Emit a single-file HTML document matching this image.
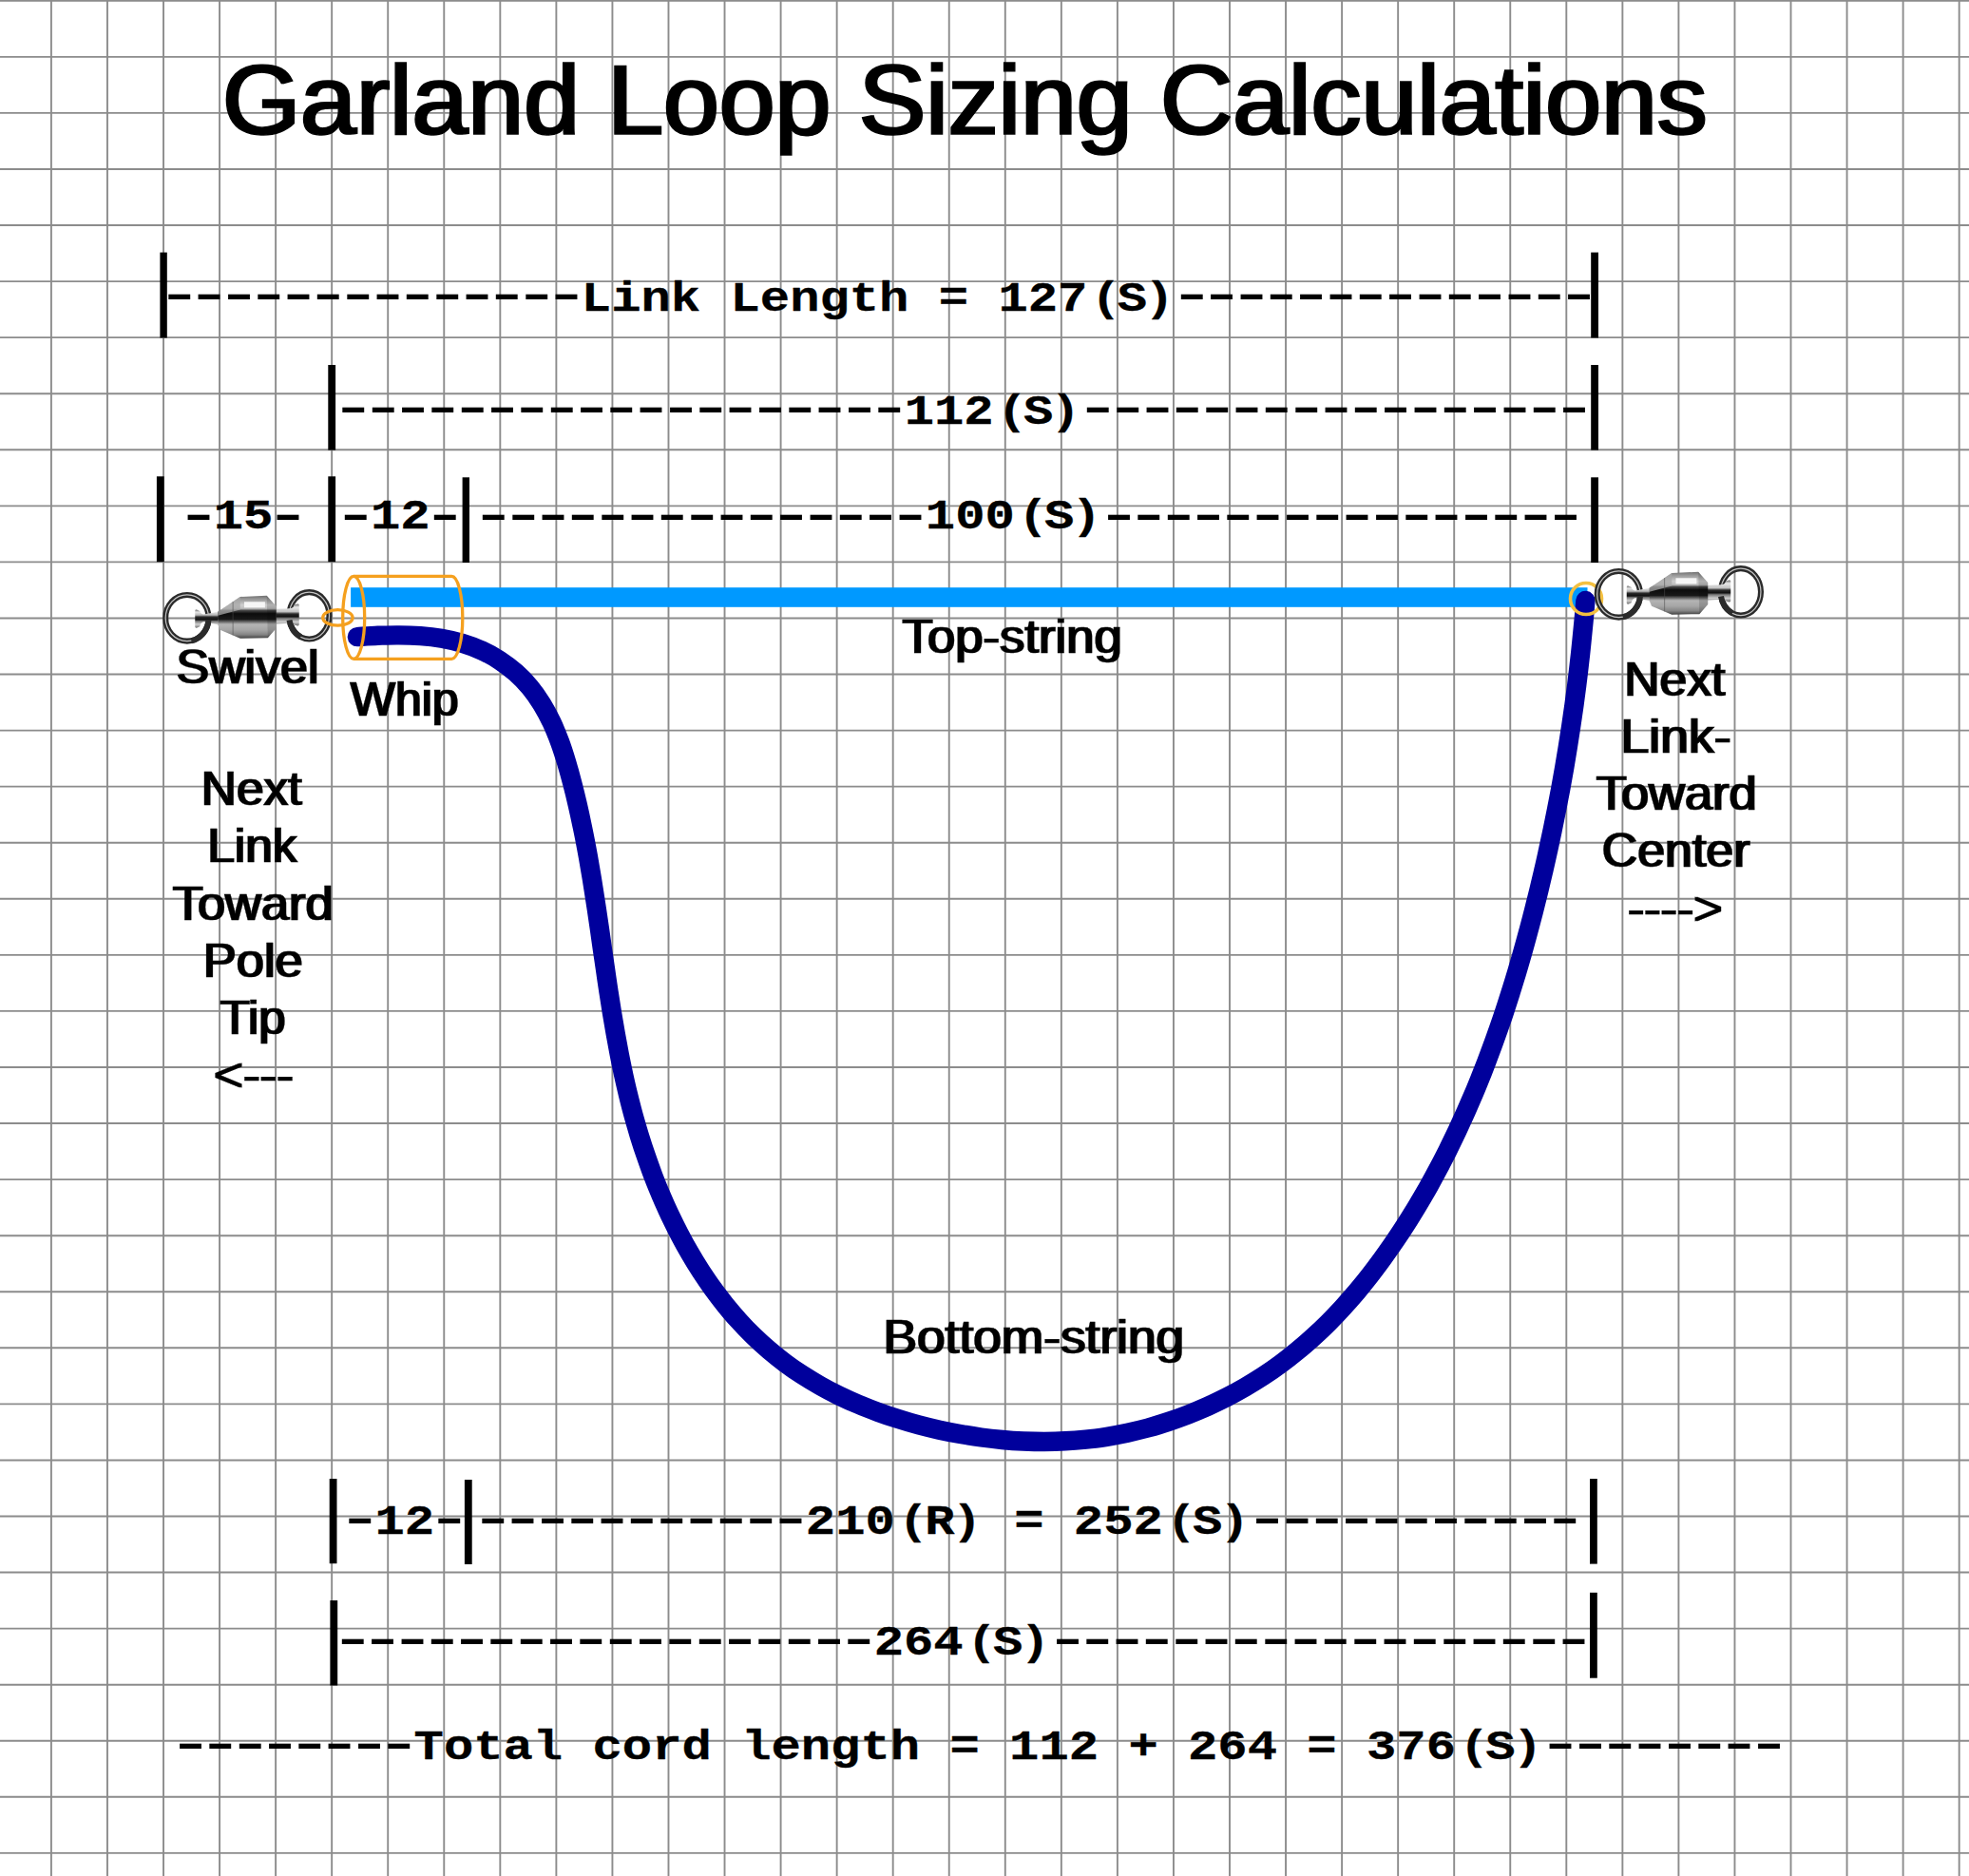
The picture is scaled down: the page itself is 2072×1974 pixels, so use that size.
<!DOCTYPE html>
<html><head><meta charset="utf-8"><title>Garland Loop Sizing Calculations</title>
<style>
html,body{margin:0;padding:0;background:#fff}
svg{display:block}
text{fill:#000;white-space:pre}
.m{font-family:"Liberation Mono",monospace;font-weight:bold;font-size:44.0px;stroke:#000;stroke-width:.3;stroke-linejoin:round}
.d{font-family:"Liberation Mono",monospace;font-weight:bold;font-size:44.0px;letter-spacing:-9.372px}
.s{font-family:"Liberation Sans",sans-serif;stroke:#000;stroke-linejoin:miter}
.l,.t{filter:url(#fh)}
</style></head><body>
<svg width="2072" height="1974" viewBox="0 0 2072 1974">
<defs>
<linearGradient id="gb" gradientUnits="userSpaceOnUse" x1="0" y1="240" x2="0" y2="642">
<stop offset="0" stop-color="#707070"/><stop offset=".07" stop-color="#939393"/><stop offset=".15" stop-color="#b4b4b4"/><stop offset=".22" stop-color="#cfcfcf"/><stop offset=".3" stop-color="#bdbdbd"/><stop offset=".35" stop-color="#444"/><stop offset=".42" stop-color="#0c0c0c"/><stop offset=".55" stop-color="#181818"/><stop offset=".61" stop-color="#666"/><stop offset=".67" stop-color="#b4b4b4"/><stop offset=".8" stop-color="#a6a6a6"/><stop offset=".91" stop-color="#858585"/><stop offset="1" stop-color="#404040"/>
</linearGradient>
<linearGradient id="gp" gradientUnits="userSpaceOnUse" x1="0" y1="370" x2="0" y2="545">
<stop offset="0" stop-color="#5e5e5e"/><stop offset=".14" stop-color="#e6e6e6"/><stop offset=".3" stop-color="#b5b5b5"/><stop offset=".4" stop-color="#2a2a2a"/><stop offset=".55" stop-color="#0e0e0e"/><stop offset=".63" stop-color="#777"/><stop offset=".8" stop-color="#d2d2d2"/><stop offset="1" stop-color="#6c6c6c"/>
</linearGradient>
<linearGradient id="gq" gradientUnits="userSpaceOnUse" x1="0" y1="315" x2="0" y2="525">
<stop offset="0" stop-color="#5e5e5e"/><stop offset=".16" stop-color="#e9e9e9"/><stop offset=".36" stop-color="#c2c2c2"/><stop offset=".46" stop-color="#2a2a2a"/><stop offset=".58" stop-color="#111"/><stop offset=".66" stop-color="#777"/><stop offset=".82" stop-color="#d0d0d0"/><stop offset="1" stop-color="#666"/>
</linearGradient>
<g id="swivel" transform="translate(160 600) scale(.111732)">
<g fill="none">
<ellipse cx="330" cy="450" rx="203" ry="218" stroke="#2b2b2b" stroke-width="54"/>
<ellipse cx="330" cy="450" rx="203" ry="218" stroke="#c4c4c4" stroke-width="11"/>
<ellipse cx="1480" cy="428" rx="189" ry="221" stroke="#2b2b2b" stroke-width="54"/>
<ellipse cx="1480" cy="428" rx="189" ry="221" stroke="#c4c4c4" stroke-width="11"/>
</g>
<path d="M405 382Q405 370 420 372L450 385Q455 410 485 416L622 392V512L485 486Q455 495 450 530L420 543Q405 545 405 533Z" fill="url(#gp)"/>
<path d="M1385 327Q1385 315 1370 317L1340 325Q1335 355 1300 360L1168 365V505L1300 498Q1335 500 1340 515L1370 523Q1385 525 1385 513Z" fill="url(#gq)"/>
<path d="M620 392L830 250L1080 240L1170 340V545L1090 637L830 642L640 562L620 512Z" fill="url(#gb)"/>
<path d="M620 392L830 250V372L620 428Z" fill="#a8a8a8" opacity=".75"/>
<path d="M1080 240L1170 340V545L1090 637Z" fill="#000" opacity=".14"/>
<rect x="868" y="298" width="196" height="54" fill="#f6f6f6"/>
<path d="M762 296V612" stroke="#4a4a4a" stroke-width="7" fill="none" opacity=".7"/>
<path d="M532 470A203 218 0 0 1 370 664" stroke="#2b2b2b" stroke-width="54" fill="none"/>
<path d="M1293 470A189 221 0 0 0 1400 629" stroke="#2b2b2b" stroke-width="54" fill="none"/>
</g>
</defs>

<defs><filter id="fh" x="-5%" y="-10%" width="110%" height="120%"><feMorphology operator="dilate" radius="1 0"/></filter></defs>
<rect width="2072" height="1974" fill="#fff"/>
<path d="M53.91 0V1974M112.96 0V1974M172.01 0V1974M231.07 0V1974M290.12 0V1974M349.17 0V1974M408.22 0V1974M467.27 0V1974M526.33 0V1974M585.38 0V1974M644.43 0V1974M703.48 0V1974M762.53 0V1974M821.59 0V1974M880.64 0V1974M939.69 0V1974M998.74 0V1974M1057.79 0V1974M1116.85 0V1974M1175.90 0V1974M1234.95 0V1974M1294.00 0V1974M1353.05 0V1974M1412.11 0V1974M1471.16 0V1974M1530.21 0V1974M1589.26 0V1974M1648.31 0V1974M1707.37 0V1974M1766.42 0V1974M1825.47 0V1974M1884.52 0V1974M1943.57 0V1974M2002.63 0V1974M2061.68 0V1974M0 0.77H2072M0 59.83H2072M0 118.90H2072M0 177.96H2072M0 237.03H2072M0 296.09H2072M0 355.15H2072M0 414.22H2072M0 473.28H2072M0 532.35H2072M0 591.41H2072M0 650.47H2072M0 709.54H2072M0 768.60H2072M0 827.67H2072M0 886.73H2072M0 945.79H2072M0 1004.86H2072M0 1063.92H2072M0 1122.99H2072M0 1182.05H2072M0 1241.11H2072M0 1300.18H2072M0 1359.24H2072M0 1418.31H2072M0 1477.37H2072M0 1536.43H2072M0 1595.50H2072M0 1654.56H2072M0 1713.63H2072M0 1772.69H2072M0 1831.75H2072M0 1890.82H2072M0 1949.88H2072" stroke="#8c8c8c" stroke-width="1.9" fill="none"/>
<rect x="168.4" y="265.6" width="7.4" height="89.9"/>
<rect x="1674.2" y="265.6" width="7.8" height="89.9"/>
<rect x="345.3" y="384.0" width="7.8" height="89.6"/>
<rect x="1674.2" y="384.0" width="7.8" height="89.6"/>
<rect x="164.9" y="501.3" width="7.8" height="89.9"/>
<rect x="345.3" y="501.3" width="7.8" height="89.9"/>
<rect x="486.6" y="502.3" width="7.4" height="89.7"/>
<rect x="1674.2" y="502.3" width="7.8" height="89.7"/>
<rect x="346.7" y="1556.0" width="7.8" height="89.2"/>
<rect x="488.9" y="1557.0" width="7.8" height="89.0"/>
<rect x="1673.0" y="1556.0" width="7.8" height="89.6"/>
<rect x="347.4" y="1684.0" width="7.8" height="89.5"/>
<rect x="1673.0" y="1675.8" width="7.8" height="89.9"/>
<text class="d" transform="translate(164.48 324.20) scale(1.8400 1)">--------------</text>
<text class="m" transform="translate(611.86 326.50) scale(1.1869 1)">Link Length = 127<tspan dx="3.2">(</tspan><tspan dx="-3.2">S</tspan><tspan dx="-2.4">)</tspan></text>
<text class="d" transform="translate(1230.04 324.20) scale(1.8400 1)">--------------</text>
<text class="d" transform="translate(347.58 443.30) scale(1.8400 1)">-------------------</text>
<text class="m" transform="translate(951.66 445.60) scale(1.1869 1)">112<tspan dx="3.2">(</tspan><tspan dx="-3.2">S</tspan><tspan dx="-2.4">)</tspan></text>
<text class="d" transform="translate(1131.08 443.30) scale(1.8400 1)">-----------------</text>
<text class="d" transform="translate(184.78 556.10) scale(1.8400 1)">-</text>
<text class="m" transform="translate(224.74 555.80) scale(1.1869 1)">15</text>
<text class="d" transform="translate(278.80 556.10) scale(1.8400 1)">-</text>
<text class="d" transform="translate(350.08 556.10) scale(1.8400 1)">-</text>
<text class="m" transform="translate(390.04 555.80) scale(1.1869 1)">12</text>
<text class="d" transform="translate(444.10 556.10) scale(1.8400 1)">-</text>
<text class="d" transform="translate(495.08 556.10) scale(1.8400 1)">---------------</text>
<text class="m" transform="translate(973.80 555.80) scale(1.1869 1)">100<tspan dx="3.2">(</tspan><tspan dx="-3.2">S</tspan><tspan dx="-2.4">)</tspan></text>
<text class="d" transform="translate(1153.22 556.10) scale(1.8400 1)">----------------</text>
<text class="d" transform="translate(354.48 1611.80) scale(1.8400 1)">-</text>
<text class="m" transform="translate(394.44 1614.10) scale(1.1869 1)">12</text>
<text class="d" transform="translate(448.50 1611.80) scale(1.8400 1)">-</text>
<text class="d" transform="translate(494.48 1611.80) scale(1.8400 1)">-----------</text>
<text class="m" transform="translate(847.84 1614.10) scale(1.1869 1)">210<tspan dx="3.2">(</tspan><tspan dx="-3.2">R</tspan><tspan dx="-2.4">)</tspan><tspan dx="2.4"> </tspan>= 252<tspan dx="3.2">(</tspan><tspan dx="-3.2">S</tspan><tspan dx="-2.4">)</tspan></text>
<text class="d" transform="translate(1309.32 1611.80) scale(1.8400 1)">-----------</text>
<text class="d" transform="translate(346.98 1738.70) scale(1.8400 1)">------------------</text>
<text class="m" transform="translate(919.72 1741.00) scale(1.1869 1)">264<tspan dx="3.2">(</tspan><tspan dx="-3.2">S</tspan><tspan dx="-2.4">)</tspan></text>
<text class="d" transform="translate(1099.14 1738.70) scale(1.8400 1)">------------------</text>
<text class="d" transform="translate(176.23 1848.90) scale(1.8400 1)">--------</text>
<text class="m" transform="translate(435.57 1851.20) scale(1.1869 1)">Total cord length = 112 + 264 = 376<tspan dx="3.2">(</tspan><tspan dx="-3.2">S</tspan><tspan dx="-2.4">)</tspan></text>
<text class="d" transform="translate(1617.87 1848.90) scale(1.8400 1)">--------</text>
<text class="s t" transform="translate(233.91 141.10) scale(1.0213 1)" font-size="103.5" stroke-width="1.3">Garland Loop Sizing Calculations</text>
<text class="s l" transform="translate(185.56 719.20) scale(1.0212 1)" font-size="50.8" stroke-width="0.3">Swivel</text>
<text class="s l" transform="translate(368.70 752.70) scale(0.9845 1)" font-size="50.8" stroke-width="0.3">Whip</text>
<text class="s l" transform="translate(949.57 686.50) scale(1.0371 1)" font-size="50.8" stroke-width="0.3">Top-string</text>
<text class="s l" transform="translate(929.41 1424.20) scale(1.0491 1)" font-size="50.8" stroke-width="0.3">Bottom-string</text>
<text class="s l" transform="translate(211.75 847.20) scale(1.0126 1)" font-size="50.8" stroke-width="0.3">Next</text>
<text class="s l" transform="translate(218.15 907.40) scale(1.0135 1)" font-size="50.8" stroke-width="0.3">Link</text>
<text class="s l" transform="translate(181.67 967.60) scale(1.0319 1)" font-size="50.8" stroke-width="0.3">Toward</text>
<text class="s l" transform="translate(213.78 1027.50) scale(1.0322 1)" font-size="50.8" stroke-width="0.3">Pole</text>
<text class="s l" transform="translate(231.80 1087.70) scale(1.0011 1)" font-size="50.8" stroke-width="0.3">Tip</text>
<text class="s l" transform="translate(225.02 1147.80) scale(1.0417 1)" font-size="50.8" stroke-width="0.3">&lt;---</text>
<text class="s l" transform="translate(1709.24 731.90) scale(1.0156 1)" font-size="50.8" stroke-width="0.3">Next</text>
<text class="s l" transform="translate(1705.59 792.30) scale(1.0537 1)" font-size="50.8" stroke-width="0.3">Link-</text>
<text class="s l" transform="translate(1679.67 852.10) scale(1.0325 1)" font-size="50.8" stroke-width="0.3">Toward</text>
<text class="s l" transform="translate(1685.76 912.40) scale(1.0209 1)" font-size="50.8" stroke-width="0.3">Center</text>
<text class="s l" transform="translate(1713.06 972.50) scale(1.0217 1)" font-size="50.8" stroke-width="0.3">----&gt;</text>
<rect x="369.1" y="618.2" width="1301.4" height="20.6" fill="#0099ff"/>
<path d="M375.9 670.1C379.5 669.9 390.2 669.1 397.6 668.8C404.9 668.6 412.4 668.3 419.9 668.4C427.3 668.4 434.9 668.6 442.4 669.1C449.8 669.7 457.3 670.5 464.7 671.7C472.0 673.0 479.2 674.6 486.2 676.7C493.2 678.8 500.1 681.4 506.7 684.4C513.3 687.4 519.6 690.9 525.7 694.8C531.7 698.7 537.4 703.1 542.8 707.8C548.1 712.5 553.1 717.7 557.7 723.2C562.3 728.7 566.4 734.7 570.2 740.8C574.0 747.0 577.4 753.5 580.6 760.2C583.7 766.9 586.5 773.9 589.2 781.0C591.8 788.1 594.1 795.4 596.3 802.7C598.5 810.0 600.5 817.4 602.4 824.8C604.3 832.1 606.1 839.5 607.8 846.9C609.5 854.3 611.1 861.7 612.6 869.0C614.2 876.4 615.6 883.7 617.0 891.1C618.4 898.4 619.7 905.8 620.9 913.1C622.2 920.4 623.4 927.7 624.5 935.1C625.7 942.4 626.8 949.7 627.9 957.0C629.0 964.3 630.0 971.6 631.1 978.8C632.1 986.1 633.2 993.4 634.2 1000.7C635.3 1007.9 636.3 1015.2 637.4 1022.4C638.4 1029.7 639.5 1036.9 640.6 1044.2C641.7 1051.4 642.8 1058.6 644.0 1065.9C645.2 1073.1 646.4 1080.3 647.7 1087.5C649.0 1094.7 650.3 1101.9 651.7 1109.1C653.1 1116.3 654.6 1123.5 656.1 1130.6C657.7 1137.8 659.3 1145.0 661.1 1152.2C662.8 1159.3 664.7 1166.5 666.6 1173.6C668.6 1180.8 670.7 1187.9 672.8 1195.0C675.0 1202.2 677.3 1209.3 679.8 1216.3C682.2 1223.4 684.8 1230.5 687.4 1237.5C690.1 1244.5 692.9 1251.5 695.9 1258.3C698.8 1265.2 701.9 1272.1 705.1 1278.9C708.3 1285.6 711.6 1292.3 715.1 1299.0C718.5 1305.6 722.1 1312.1 725.9 1318.5C729.6 1325.0 733.5 1331.3 737.5 1337.5C741.6 1343.7 745.7 1349.8 750.0 1355.8C754.4 1361.8 758.8 1367.6 763.4 1373.4C768.0 1379.1 772.8 1384.6 777.7 1390.0C782.6 1395.5 787.7 1400.7 792.9 1405.8C798.2 1410.9 803.5 1415.8 809.1 1420.6C814.6 1425.3 820.3 1429.9 826.2 1434.2C832.0 1438.6 838.1 1442.8 844.2 1446.7C850.4 1450.7 856.7 1454.5 863.1 1458.1C869.6 1461.8 876.1 1465.2 882.8 1468.5C889.4 1471.7 896.2 1474.8 903.1 1477.7C909.9 1480.6 916.9 1483.3 923.9 1485.9C930.9 1488.5 938.0 1490.9 945.2 1493.1C952.3 1495.4 959.5 1497.5 966.8 1499.4C974.0 1501.3 981.3 1503.1 988.6 1504.7C995.9 1506.3 1003.2 1507.7 1010.6 1509.0C1017.9 1510.3 1025.2 1511.5 1032.6 1512.5C1039.9 1513.5 1047.3 1514.3 1054.7 1515.0C1062.0 1515.7 1069.4 1516.2 1076.8 1516.5C1084.1 1516.8 1091.5 1517.0 1098.8 1517.0C1106.2 1516.9 1113.5 1516.7 1120.9 1516.3C1128.2 1516.0 1135.5 1515.4 1142.8 1514.6C1150.1 1513.9 1157.4 1512.9 1164.7 1511.8C1172.0 1510.6 1179.2 1509.2 1186.4 1507.7C1193.6 1506.1 1200.8 1504.4 1208.0 1502.5C1215.1 1500.5 1222.2 1498.4 1229.3 1496.0C1236.3 1493.7 1243.3 1491.2 1250.3 1488.5C1257.2 1485.8 1264.1 1482.9 1270.8 1479.9C1277.6 1476.8 1284.3 1473.6 1291.0 1470.2C1297.6 1466.8 1304.1 1463.2 1310.5 1459.5C1317.0 1455.7 1323.3 1451.8 1329.5 1447.8C1335.7 1443.7 1341.8 1439.5 1347.7 1435.1C1353.7 1430.7 1359.5 1426.1 1365.2 1421.4C1371.0 1416.8 1376.5 1411.9 1382.0 1406.9C1387.4 1402.0 1392.8 1396.9 1398.0 1391.7C1403.2 1386.4 1408.3 1381.1 1413.3 1375.6C1418.2 1370.2 1423.1 1364.6 1427.9 1359.0C1432.6 1353.3 1437.3 1347.5 1441.8 1341.7C1446.4 1335.9 1450.8 1329.9 1455.1 1324.0C1459.5 1318.0 1463.7 1311.9 1467.9 1305.8C1472.0 1299.7 1476.1 1293.5 1480.1 1287.2C1484.1 1281.0 1487.9 1274.7 1491.7 1268.4C1495.5 1262.1 1499.2 1255.7 1502.9 1249.3C1506.5 1242.8 1510.0 1236.4 1513.5 1229.8C1516.9 1223.3 1520.3 1216.8 1523.6 1210.2C1526.9 1203.6 1530.1 1196.9 1533.3 1190.2C1536.4 1183.5 1539.5 1176.8 1542.5 1170.1C1545.5 1163.3 1548.4 1156.5 1551.3 1149.7C1554.2 1142.9 1556.9 1136.0 1559.7 1129.1C1562.4 1122.3 1565.1 1115.3 1567.6 1108.4C1570.2 1101.5 1572.8 1094.5 1575.2 1087.5C1577.7 1080.5 1580.1 1073.5 1582.5 1066.4C1584.8 1059.4 1587.1 1052.3 1589.3 1045.3C1591.6 1038.2 1593.7 1031.1 1595.9 1024.0C1598.0 1016.9 1600.1 1009.7 1602.1 1002.6C1604.1 995.5 1606.1 988.3 1608.0 981.1C1610.0 974.0 1611.8 966.8 1613.7 959.6C1615.5 952.4 1617.3 945.3 1619.1 938.1C1620.8 930.9 1622.5 923.7 1624.2 916.5C1625.9 909.3 1627.5 902.0 1629.1 894.8C1630.7 887.6 1632.2 880.4 1633.7 873.2C1635.2 865.9 1636.7 858.7 1638.1 851.5C1639.5 844.2 1640.9 837.0 1642.3 829.7C1643.6 822.5 1644.9 815.2 1646.2 807.9C1647.4 800.7 1648.6 793.4 1649.8 786.1C1651.0 778.8 1652.1 771.5 1653.2 764.2C1654.3 756.9 1655.3 749.6 1656.4 742.3C1657.4 735.0 1658.3 727.7 1659.3 720.3C1660.2 713.0 1661.1 705.7 1661.9 698.3C1662.8 691.0 1663.6 683.6 1664.3 676.3C1665.1 668.9 1665.8 661.5 1666.5 654.1C1667.2 646.8 1668.1 635.7 1668.4 632.0" stroke="#00009c" stroke-width="20.4" fill="none" stroke-linecap="round" stroke-linejoin="round"/>
<use href="#swivel"/>
<g fill="none" stroke="#f5a01e" stroke-width="3.3"><ellipse cx="372.2" cy="649.9" rx="11.5" ry="43.5"/><path d="M372.2 606.4H475.3A11.5 43.5 0 0 1 475.3 693.4H372.2"/><ellipse cx="355.4" cy="649.9" rx="15.7" ry="8.2"/></g>
<circle cx="1669" cy="630" r="16.5" fill="none" stroke="#f4c040" stroke-width="3.6"/>
<use href="#swivel" transform="translate(1506.5 -25)"/>
</svg>
</body></html>
